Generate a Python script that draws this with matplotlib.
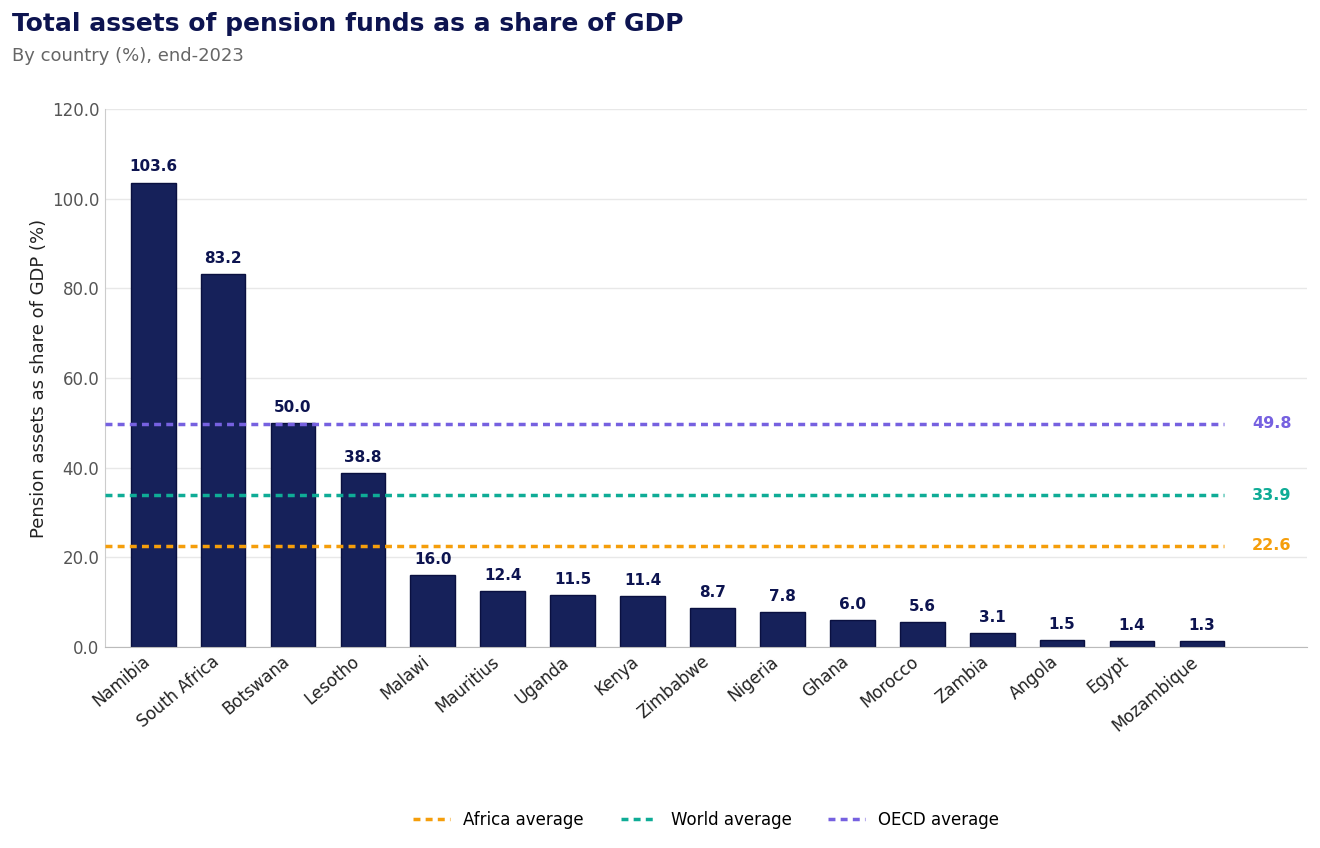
import numpy as np
import matplotlib.pyplot as plt

countries = ['Namibia', 'South Africa', 'Botswana', 'Lesotho', 'Malawi', 'Mauritius',
             'Uganda', 'Kenya', 'Zimbabwe', 'Nigeria', 'Ghana', 'Morocco', 'Zambia',
             'Angola', 'Egypt', 'Mozambique']
values = [103.6, 83.2, 50.0, 38.8, 16.0, 12.4, 11.5, 11.4, 8.7, 7.8, 6.0, 5.6, 3.1, 1.5, 1.4, 1.3]

avg_names = ['Africa average', 'World average', 'OECD average']
avg_values = [22.6, 33.9, 49.8]
avg_colors = ['#f59e0b', '#0fac96', '#7661e0']

navy = '#0d1450'

fig = plt.figure(figsize=(13.2, 8.48), dpi=100)
ax = fig.add_axes([0.0795, 0.237, 0.9105, 0.6345])

x = np.arange(len(countries))
bars = ax.bar(x, values, width=0.64, color='#16215a', edgecolor='#0a1040', linewidth=1.0, zorder=2)

for xi, v in zip(x, values):
    ax.text(xi, v + 1.8, f'{v:.1f}', ha='center', va='bottom', fontsize=11,
            fontweight='bold', color=navy)

# average lines
x0, x1 = -0.69, 15.32
for name, val, col in zip(avg_names, avg_values, avg_colors):
    ax.plot([x0, x1], [val, val], linestyle=(0, (2.0, 1.5)), color=col, linewidth=2.5,
            label=name, zorder=3)
    ax.text(16.0, val, f'{val:.1f}', ha='center', va='center', fontsize=11.5,
            fontweight='bold', color=col)

ax.set_xlim(-0.69, 16.5)
ax.set_ylim(0, 120)
ax.set_yticks(np.arange(0, 121, 20))
ax.set_yticklabels([f'{t:.1f}' for t in np.arange(0, 121, 20)])
ax.tick_params(axis='y', labelsize=12, labelcolor='#555555', length=0, pad=4)
ax.tick_params(axis='x', labelsize=12, labelcolor='#222222', length=0, pad=4)
ax.set_xticks(x)
ax.set_xticklabels(countries, rotation=40, ha='right')
ax.yaxis.grid(True, color='#e8e8e8', linewidth=1, zorder=0)
ax.set_axisbelow(True)
for s in ['top', 'right']:
    ax.spines[s].set_visible(False)
ax.spines['left'].set_color('#cccccc')
ax.spines['bottom'].set_color('#bbbbbb')
ax.set_ylabel('Pension assets as share of GDP (%)', fontsize=13, color='#222222', labelpad=3)

fig.text(0.009, 0.972, 'Total assets of pension funds as a share of GDP', fontsize=18,
         fontweight='bold', color=navy, va='center')
fig.text(0.009, 0.934, 'By country (%), end-2023', fontsize=13, color='#666666', va='center')

fig.legend(loc='center', bbox_to_anchor=(0.535, 0.033), ncol=3, frameon=False,
           fontsize=12, handlelength=2.2, columnspacing=2.2)

fig.savefig('out.png', dpi=100)
